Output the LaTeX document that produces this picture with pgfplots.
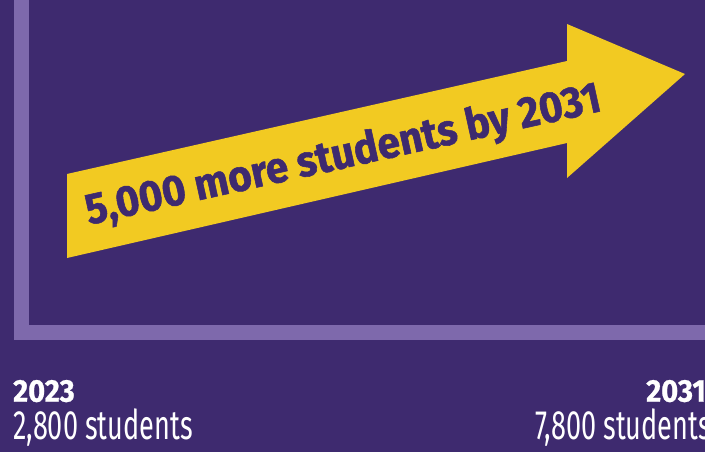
\documentclass[border=0pt]{standalone}
\usepackage{fontspec}
\setmainfont{Fira Sans}
\newfontfamily\condreg[FakeStretch=0.66]{Fira Sans}
\newfontfamily\condbold[FakeStretch=0.92, FakeBold=0.8]{Fira Sans}
\newfontfamily\arrowfont[FakeStretch=0.93, FakeBold=1.2]{Fira Sans}
\usepackage{pgfplots}
\pgfplotsset{compat=1.18}
\definecolor{bg}{HTML}{3E2A6F}
\definecolor{axisline}{HTML}{7E69AC}
\definecolor{arrowyellow}{HTML}{F2CA22}
\begin{document}
\begin{tikzpicture}
\begin{axis}[
    width=705pt, height=452pt,
    scale only axis,
    xmin=0, xmax=705, ymin=0, ymax=452,
    y dir=reverse,
    axis background/.style={fill=bg},
    axis line style={draw=none},
    xtick=\empty, ytick=\empty,
    clip=true,
]
    % L-shaped "axis" of the infographic
    \addplot[axisline, line width=15pt, line join=miter]
        coordinates {(21,-20) (21,332) (720,332)};
    % growth arrow, 2023 -> 2031
    \addplot[fill=arrowyellow, draw=none]
        coordinates {(67,258) (67,174) (567,61) (567,24) (685,74) (567,178) (567,143)};
\end{axis}
\node[rotate=12.5, anchor=base, inner sep=0pt, text=bg, font=\arrowfont\bfseries\fontsize{43.5}{43.5}\selectfont]
    at (346pt,452pt-167.7pt) {5,000 more students by 2031};
\node[anchor=base west, text=white, inner sep=0pt, font=\condbold\bfseries\fontsize{31.5}{31.5}\selectfont]
    at (13pt,452pt-401.7pt) {2023};
\node[anchor=base west, text=white, inner sep=0pt, font=\condreg\fontsize{41}{41}\selectfont]
    at (13pt,452pt-440pt) {2,800 students};
\node[anchor=base east, text=white, inner sep=0pt, font=\condbold\bfseries\fontsize{31.5}{31.5}\selectfont]
    at (706pt,452pt-401.7pt) {2031};
\node[anchor=base east, text=white, inner sep=0pt, font=\condreg\fontsize{41}{41}\selectfont]
    at (711pt,452pt-440pt) {7,800 students};
\pgfresetboundingbox
\useasboundingbox (0,0) rectangle (705pt,452pt);
\end{tikzpicture}
\end{document}
